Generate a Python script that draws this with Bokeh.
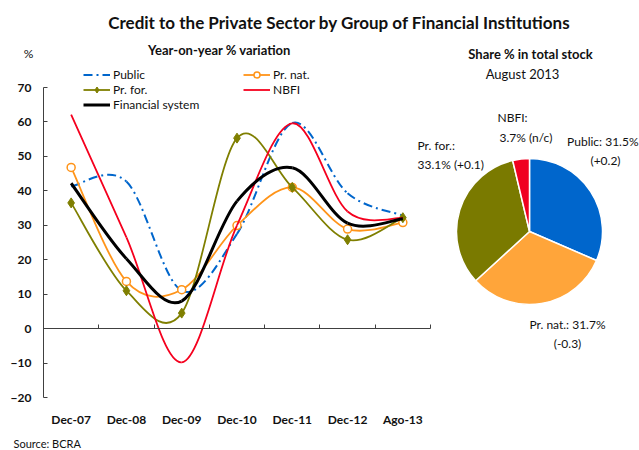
import numpy as np
from bokeh.plotting import figure
from bokeh.models import (Range1d, LinearAxis, FixedTicker, Label, Legend,
                          LegendItem, ColumnDataSource)
from bokeh.embed import file_html
from bokeh.resources import INLINE

# ---------------- data ----------------
categories = ["Dec-07", "Dec-08", "Dec-09", "Dec-10", "Dec-11", "Dec-12", "Ago-13"]
public   = [41.3, 42.7, 11.0, 27.5, 59.7, 39.3, 32.8]
pr_nat   = [46.8, 13.7, 11.3, 29.9, 41.0, 28.9, 30.8]
pr_for   = [36.5, 11.0, 4.5, 55.3, 41.0, 25.8, 32.2]
nbfi     = [62.1, 26.5, -9.8, 30.0, 59.6, 34.0, 32.1]
fin_sys  = [42.2, 20.3, 8.0, 37.0, 46.7, 30.6, 31.9]
y_ticks  = [-20, -10, 0, 10, 20, 30, 40, 50, 60, 70]

pie_names  = ["Public", "Pr. nat.", "Pr. for.", "NBFI"]
pie_share  = [31.5, 31.7, 33.1, 3.7]
pie_change = ["+0.2", "-0.3", "+0.1", "n/c"]

# ---------------- layout / style ----------------
W, H = 639, 450
AX_LEFT, AX_RIGHT, AX_TOP, AX_BOTTOM = 43, 430, 87, 397   # pixel box of the line chart axes
FONT = "Lato"
TXT = "#111111"
BLUE, ORANGE, OLIVE, RED = "#0066CC", "#FF9419", "#7F7F00", "#F5001E"
PIE_COLORS = ["#0066CC", "#FFA53A", "#7A7A00", "#F00020"]
AX_COL = "#404040"

n = len(categories)
y_min, y_max = min(y_ticks), max(y_ticks)
ppx = (AX_RIGHT - AX_LEFT) / n
ppy = (AX_BOTTOM - AX_TOP) / (y_max - y_min)
x_range = Range1d(-AX_LEFT / ppx, (W - AX_LEFT) / ppx)
y_range = Range1d(y_min - (H - AX_BOTTOM) / ppy, y_max + AX_TOP / ppy)
xc = [i + 0.5 for i in range(n)]

p = figure(width=W, height=H, x_range=x_range, y_range=y_range,
           output_backend="svg", toolbar_location=None,
           min_border_left=0, min_border_right=0, min_border_top=0, min_border_bottom=0,
           x_axis_location=None, y_axis_location=None)
p.grid.visible = False
p.outline_line_color = None
p.background_fill_color = "white"
p.border_fill_color = "white"

# canvas-pixel coordinate system for texts and the pie
p.extra_x_ranges = {"page": Range1d(0, W)}
p.extra_y_ranges = {"page": Range1d(H, 0)}

# y axis
yax = LinearAxis(fixed_location=0, ticker=FixedTicker(ticks=y_ticks), bounds=(y_min, y_max),
                 axis_line_color=AX_COL, major_tick_line_color=AX_COL,
                 major_tick_in=4, major_tick_out=0, minor_tick_line_color=None,
                 major_label_standoff=12, major_label_text_font=FONT,
                 major_label_text_font_style="bold", major_label_text_font_size="12px",
                 major_label_text_color=TXT)
p.add_layout(yax, "left")

# category labels (low position)
xlab = LinearAxis(fixed_location=y_min, ticker=FixedTicker(ticks=xc),
                  major_label_overrides={x: c for x, c in zip(xc, categories)},
                  axis_line_color=None, major_tick_line_color=None, minor_tick_line_color=None,
                  major_tick_in=0, major_tick_out=0,
                  major_label_standoff=14, major_label_text_font=FONT,
                  major_label_text_font_style="bold", major_label_text_font_size="12px",
                  major_label_text_color=TXT)
p.add_layout(xlab, "below")

# horizontal axis line at zero with inward ticks
zax = LinearAxis(fixed_location=0, ticker=FixedTicker(ticks=list(range(n + 1))),
                 bounds=(0, n), axis_line_color=AX_COL, major_tick_line_color=AX_COL,
                 major_tick_in=4, major_tick_out=0, minor_tick_line_color=None,
                 major_label_text_color=None)
p.add_layout(zax, "below")


def smooth_source(xs, ys):
    P = np.column_stack([xs, ys]).astype(float)
    m = len(P)
    d = {k: [] for k in ["x0", "y0", "x1", "y1", "cx0", "cy0", "cx1", "cy1"]}
    for i in range(m - 1):
        a = P[i - 1] if i > 0 else P[i]
        b, c = P[i], P[i + 1]
        e = P[i + 2] if i + 2 < m else P[i + 1]
        c1 = b + (c - a) / 6.0
        c2 = c - (e - b) / 6.0
        d["x0"].append(b[0]); d["y0"].append(b[1])
        d["x1"].append(c[0]); d["y1"].append(c[1])
        d["cx0"].append(c1[0]); d["cy0"].append(c1[1])
        d["cx1"].append(c2[0]); d["cy1"].append(c2[1])
    return ColumnDataSource(d)


def curve(ys, **kw):
    return p.bezier(x0="x0", y0="y0", x1="x1", y1="y1", cx0="cx0", cy0="cy0",
                    cx1="cx1", cy1="cy1", source=smooth_source(xc, ys), **kw)


r_pub = curve(public, line_color=BLUE, line_width=2, line_dash="9 4 2 4")
r_nat = curve(pr_nat, line_color=ORANGE, line_width=1.8)
r_nat_m = p.scatter(xc, pr_nat, marker="circle", size=8, fill_color="white",
                    line_color=ORANGE, line_width=1.5)
r_for = curve(pr_for, line_color=OLIVE, line_width=1.8)
r_for_m = p.scatter(xc, pr_for, marker="diamond", size=10, fill_color=OLIVE,
                    line_color=OLIVE, line_width=1)
r_nbfi = curve(nbfi, line_color=RED, line_width=1.8)
r_fs = curve(fin_sys, line_color="black", line_width=3)

leg_kw = dict(glyph_width=27, glyph_height=15, label_height=15, spacing=0, padding=0,
              margin=0, label_standoff=3, border_line_color=None,
              background_fill_alpha=0, label_text_font=FONT,
              label_text_font_size="12px", label_text_color=TXT)
leg1 = Legend(items=[LegendItem(label="Public", renderers=[r_pub]),
                     LegendItem(label="Pr. for.", renderers=[r_for, r_for_m]),
                     LegendItem(label="Financial system", renderers=[r_fs])],
              location=(83, H - 111.5), **leg_kw)
leg2 = Legend(items=[LegendItem(label="Pr. nat.", renderers=[r_nat, r_nat_m]),
                     LegendItem(label="NBFI", renderers=[r_nbfi])],
              location=(243, H - 96.5), **leg_kw)
p.add_layout(leg1)
p.add_layout(leg2)

# pie
PIE_CX, PIE_CY, PIE_R = 529, 231, 73
frac = np.cumsum([0] + pie_share) / sum(pie_share) * 2 * np.pi
p.wedge(x=PIE_CX, y=PIE_CY, radius=PIE_R, start_angle=list(np.pi / 2 - frac[:-1]),
        end_angle=list(np.pi / 2 - frac[1:]), direction="clock",
        fill_color=PIE_COLORS, line_color="white", line_width=1.5,
        x_range_name="page", y_range_name="page")


def text(x, y, s, size="12px", bold=False, align="left"):
    p.add_layout(Label(x=x, y=y, text=s, x_range_name="page", y_range_name="page",
                       text_font=FONT, text_font_size=size,
                       text_font_style="bold" if bold else "normal",
                       text_align=align, text_baseline="middle", text_color=TXT))


text(339, 22, "Credit to the Private Sector by Group of Financial Institutions",
     size="17px", bold=True, align="center")
text(28, 53, "%", align="center")
text(219, 49, "Year-on-year % variation", size="13px", bold=True, align="center")
text(530, 53, "Share % in total stock", size="13px", bold=True, align="center")
text(522, 73, "August 2013", size="13px", align="center")
text(13, 443, "Source: BCRA", size="11px")

# pie labels: (line1 x, y, align), (line2 x, y, align), break after name?
pie_label_pos = [((638, 141, "right"), (605, 160, "center"), False),
                 ((529, 324, "left"), (567, 343, "center"), False),
                 ((417, 145, "left"), (417, 164, "left"), True),
                 ((497, 117, "left"), (499, 137, "left"), True)]
for name, sh, ch, (l1, l2, brk) in zip(pie_names, pie_share, pie_change, pie_label_pos):
    if brk:
        t1, t2 = f"{name}:", f"{sh}% ({ch})"
    else:
        t1, t2 = f"{name}: {sh}%", f"({ch})"
    text(l1[0], l1[1], t1, align=l1[2])
    text(l2[0], l2[1], t2, align=l2[2])

open("out.html", "w").write(file_html(p, INLINE))
